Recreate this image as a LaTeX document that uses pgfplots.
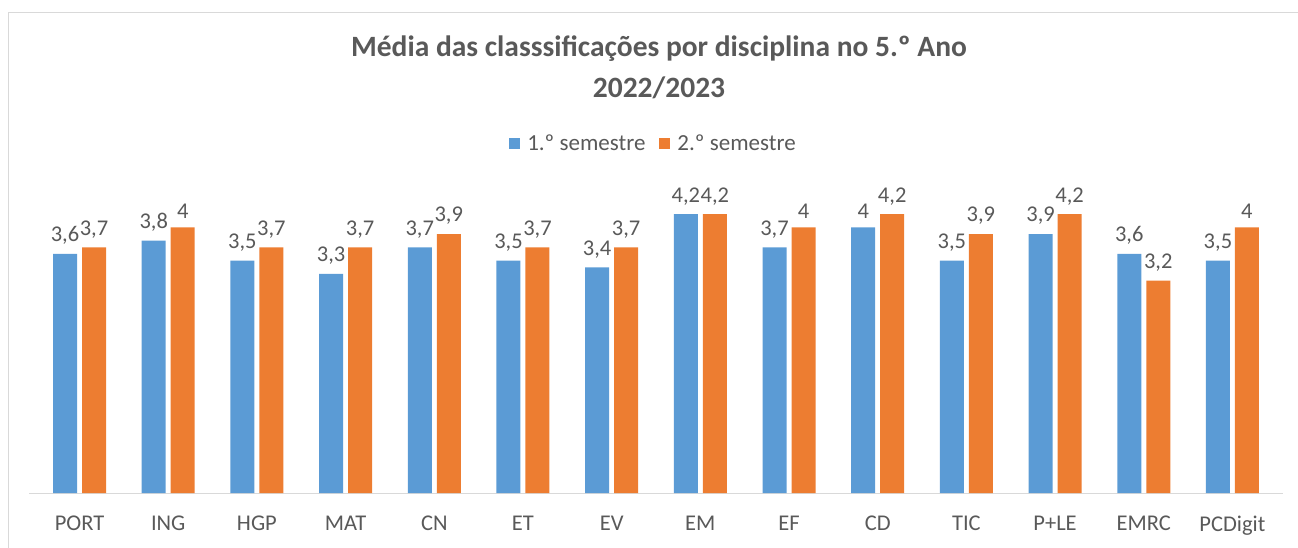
\documentclass[border=0pt]{standalone}
\usepackage{pgfplots}
\pgfplotsset{compat=1.18}
\usepackage{fontspec}
\setmainfont{Carlito}
\definecolor{cblue}{HTML}{5B9BD5}
\definecolor{corange}{HTML}{ED7D31}
\definecolor{ctext}{HTML}{595959}
\definecolor{cgrid}{HTML}{D9D9D9}
\begin{document}
\begin{tikzpicture}
\path[use as bounding box] (-29pt,-54pt) rectangle (1269pt,493pt);
\draw[cgrid, line width=1pt] (-21pt,-60pt) -- (-21pt,480pt) -- (1280pt,480pt);
\begin{axis}[
  at={(0pt,0pt)}, anchor=south west,
  width=1254pt, height=305.4pt, scale only axis,
  xmin=-0.57, xmax=13.57, ymin=0, ymax=4.6,
  ybar=5pt, bar width=24pt,
  axis x line*=bottom, axis y line=none,
  x axis line style={draw=cgrid, line width=1pt},
  xtick={0,...,13},
  xticklabels={PORT,ING,HGP,MAT,CN,ET,EV,EM,EF,CD,TIC,P+LE,EMRC,PCDigit},
  major tick length=0pt, ytick=\empty,
  xticklabel style={font=\fontsize{22.5}{27}\selectfont, text=ctext, inner sep=0pt, yshift=-23pt},
  nodes near coords,
  nodes near coords style={font=\fontsize{22.5}{27}\selectfont, text=ctext, inner sep=0pt, yshift=9pt,
    /pgf/number format/use comma, /pgf/number format/assume math mode=true},
  legend style={at={(0.498,1.146)}, anchor=center, draw=none, fill=none,
    legend columns=2, font=\fontsize{23}{28}\selectfont, text=ctext,
    /tikz/every even column/.append style={column sep=12pt},
    /tikz/every odd column/.append style={column sep=5pt}},
  clip=false,
]
\addplot[fill=cblue, draw=none, legend image code/.code={\fill[cblue] (0pt,-5.5pt) rectangle (11pt,5.5pt);}]
  coordinates {(0,3.6) (1,3.8) (2,3.5) (3,3.3) (4,3.7) (5,3.5) (6,3.4) (7,4.2) (8,3.7) (9,4) (10,3.5) (11,3.9) (12,3.6) (13,3.5)};
\addplot[fill=corange, draw=none, legend image code/.code={\fill[corange] (0pt,-5.5pt) rectangle (11pt,5.5pt);}]
  coordinates {(0,3.7) (1,4) (2,3.7) (3,3.7) (4,3.9) (5,3.7) (6,3.7) (7,4.2) (8,4) (9,4.2) (10,3.9) (11,4.2) (12,3.2) (13,4)};
\legend{1.º semestre, 2.º semestre}
\end{axis}
\node[text=ctext, font=\fontsize{29.5}{34}\bfseries] at (630pt,444pt) {Média das classsificações por disciplina no 5.º Ano};
\node[text=ctext, font=\fontsize{29.5}{34}\bfseries] at (630pt,405pt) {2022/2023};
\end{tikzpicture}
\end{document}
